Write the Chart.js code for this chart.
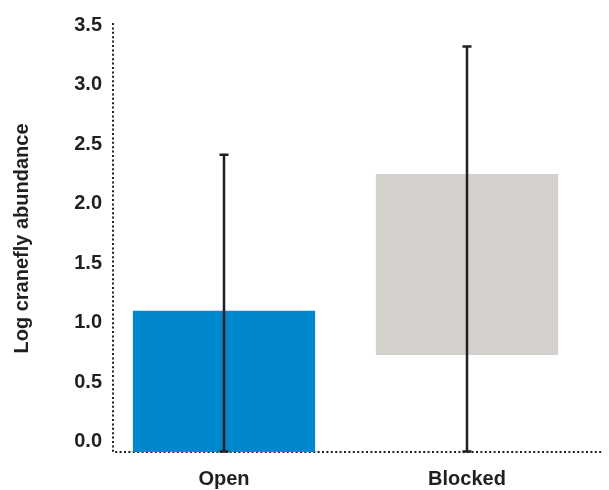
<!DOCTYPE html>
<html>
<head>
<meta charset="utf-8">
<script src="https://cdn.jsdelivr.net/npm/chart.js@4"></script>
<style>
  html, body { margin: 0; padding: 0; background: #ffffff; }
  #wrap { width: 609px; height: 490px; }
</style>
</head>
<body>
<div id="wrap"><canvas id="c" width="609" height="490"></canvas></div>
<script>
// Treatment groups and their log abundance ranges
const categories = ['Open', 'Blocked'];
const barLow = [-0.085, 0.73];
const barHigh = [1.1, 2.25];
// Error bar extents
const errLow = [-0.08, -0.08];
const errHigh = [2.41, 3.32];
// Y-axis tick labels
const yTicks = [0.0, 0.5, 1.0, 1.5, 2.0, 2.5, 3.0, 3.5];

const barColors = ['#0087cd', '#d5d1cd'];
const ink = '#231f20';

// Dotted axis lines along the left and bottom of the plot area
const dottedAxes = {
  id: 'dottedAxes',
  beforeDatasetsDraw(chart) {
    const { ctx, chartArea: a } = chart;
    ctx.save();
    ctx.strokeStyle = ink;
    ctx.lineWidth = 2;
    ctx.setLineDash([2, 2.4]);
    ctx.beginPath();
    ctx.moveTo(a.left, a.top - 2);
    ctx.lineTo(a.left, a.bottom);
    ctx.lineTo(a.right, a.bottom);
    ctx.stroke();
    ctx.restore();
  }
};

// Whiskers drawn over each bar from the error arrays
const errorBars = {
  id: 'errorBars',
  afterDatasetsDraw(chart) {
    const { ctx, scales: { x, y } } = chart;
    ctx.save();
    ctx.strokeStyle = ink;
    ctx.lineWidth = 2.5;
    categories.forEach((c, i) => {
      const px = x.getPixelForValue(i);
      const top = y.getPixelForValue(errHigh[i]);
      const bot = y.getPixelForValue(errLow[i]);
      ctx.beginPath();
      ctx.moveTo(px, top);
      ctx.lineTo(px, bot);
      ctx.moveTo(px - 4.5, top);
      ctx.lineTo(px + 4.5, top);
      ctx.moveTo(px - 4.5, bot);
      ctx.lineTo(px + 4.5, bot);
      ctx.stroke();
    });
    ctx.restore();
  }
};

new Chart(document.getElementById('c'), {
  type: 'bar',
  data: {
    datasets: [{
      data: categories.map((c, i) => ({ x: i, y: [barLow[i], barHigh[i]] })),
      backgroundColor: barColors,
      borderWidth: 0,
      barPercentage: 0.75,
      categoryPercentage: 1.0
    }]
  },
  options: {
    responsive: false,
    animation: false,
    devicePixelRatio: 1,
    layout: { padding: { top: 25, right: 6, left: 0, bottom: 0 } },
    plugins: { legend: { display: false }, tooltip: { enabled: false } },
    scales: {
      x: {
        type: 'linear',
        offset: false,
        min: -0.4568,
        max: 1.5597,
        grid: { display: false, drawTicks: false },
        border: { display: false },
        afterBuildTicks(scale) { scale.ticks = categories.map((c, i) => ({ value: i })); },
        afterFit(scale) { scale.height = 38; },
        ticks: {
          padding: 15,
          color: ink,
          font: { family: 'Liberation Sans, Arial, sans-serif', size: 20, weight: 'bold' },
          callback: (v) => categories[v]
        }
      },
      y: {
        min: -0.085,
        max: 3.5,
        grid: { display: false, drawTicks: false },
        border: { display: false },
        afterBuildTicks(scale) { scale.ticks = yTicks.map(v => ({ value: v })); },
        afterFit(scale) { scale.width = 113; },
        ticks: {
          padding: 11,
          color: ink,
          font: { family: 'Liberation Sans, Arial, sans-serif', size: 20, weight: 'bold' },
          callback: (v) => Number(v).toFixed(1)
        },
        title: {
          display: true,
          text: 'Log cranefly abundance',
          color: ink,
          padding: { top: 10, bottom: 0 },
          font: { family: 'Liberation Sans, Arial, sans-serif', size: 20, weight: 'bold' }
        }
      }
    }
  },
  plugins: [dottedAxes, errorBars]
});
</script>
</body>
</html>
